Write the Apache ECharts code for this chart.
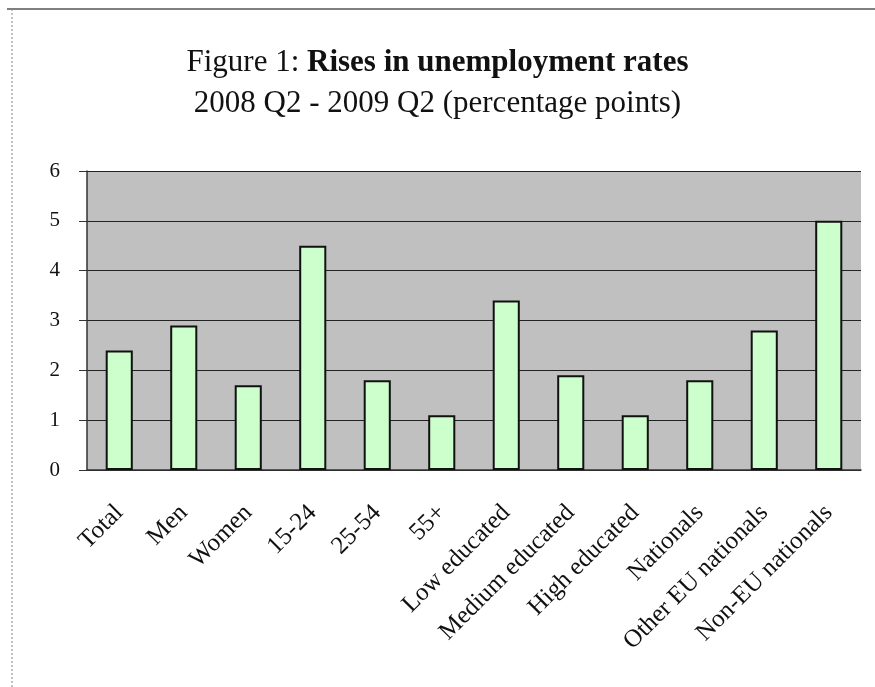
<!DOCTYPE html>
<html>
<head>
<meta charset="utf-8">
<script src="https://cdn.jsdelivr.net/npm/echarts@6/dist/echarts.min.js"></script>
<style>
  html, body { margin: 0; padding: 0; background: #fff; }
  #chart { width: 875px; height: 687px; }
</style>
</head>
<body>
<div id="chart"></div>
<script>
  // categories and values
  const categories = ['Total', 'Men', 'Women', '15-24', '25-54', '55+',
    'Low educated', 'Medium educated', 'High educated', 'Nationals',
    'Other EU nationals', 'Non-EU nationals'];
  const rises = [2.4, 2.9, 1.7, 4.5, 1.8, 1.1, 3.4, 1.9, 1.1, 1.8, 2.8, 5.0];
  const yTicks = [0, 1, 2, 3, 4, 5, 6];

  const serif = '"Liberation Serif", "DejaVu Serif", serif';
  const chart = echarts.init(document.getElementById('chart'));
  chart.setOption({
    backgroundColor: '#fff',
    animation: false,
    title: {
      text: '{a|Figure 1: }{b|Rises in unemployment rates}',
      subtext: '2008 Q2 - 2009 Q2 (percentage points)',
      left: 'center',
      top: 42,
      itemGap: 10,
      textStyle: {
        fontWeight: 'normal',
        rich: {
          a: { fontFamily: serif, fontSize: 31, fontWeight: 'normal', color: '#111' },
          b: { fontFamily: serif, fontSize: 31, fontWeight: 'bold', color: '#111' }
        }
      },
      subtextStyle: { fontFamily: serif, fontSize: 31, color: '#111' }
    },
    graphic: [
      { type: 'line', shape: { x1: 7, y1: 9, x2: 875, y2: 9 }, style: { stroke: '#555', lineWidth: 1.5 } },
      { type: 'line', shape: { x1: 12, y1: 9, x2: 12, y2: 687 }, style: { stroke: '#888', lineWidth: 1, lineDash: [2, 2] } }
    ],
    grid: { left: 87, right: 14, top: 171, bottom: 217, show: true, backgroundColor: '#c0c0c0', borderWidth: 0 },
    xAxis: {
      type: 'category',
      data: categories,
      axisLine: { lineStyle: { color: '#333', width: 1.5 } },
      axisTick: { length: 7, lineStyle: { color: '#333' } },
      axisLabel: { rotate: 45, fontFamily: serif, fontSize: 25, color: '#111', margin: 39, interval: 0 }
    },
    yAxis: {
      type: 'value',
      min: 0,
      max: 6,
      interval: 1,
      axisLine: { show: true, lineStyle: { color: '#333', width: 1.5 } },
      axisTick: { show: true, length: 8, lineStyle: { color: '#333' } },
      axisLabel: {
        fontFamily: serif, fontSize: 21, color: '#111', margin: 27,
        formatter: v => yTicks.indexOf(v) >= 0 ? String(v) : ''
      },
      splitLine: { lineStyle: { color: '#222', width: 1.2 } }
    },
    series: [{
      type: 'bar',
      data: rises,
      barWidth: '42%',
      itemStyle: { color: '#ccffcc', borderColor: '#111', borderWidth: 2 }
    }]
  });
</script>
</body>
</html>
